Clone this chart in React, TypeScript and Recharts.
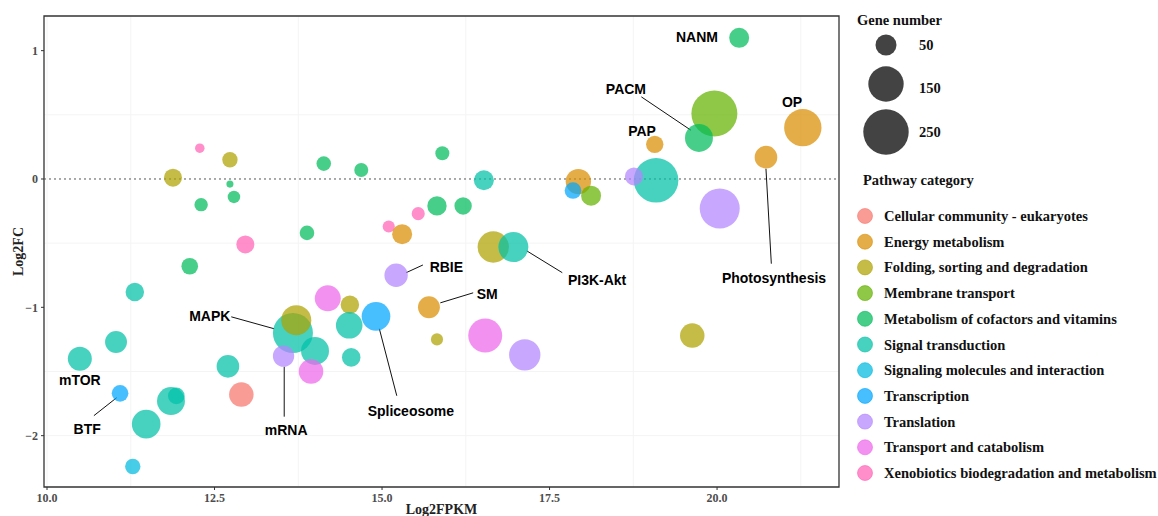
import React from 'react';
import {
  ScatterChart,
  Scatter,
  XAxis,
  YAxis,
  ZAxis,
  CartesianGrid,
  ReferenceLine,
  ReferenceArea,
  ReferenceDot,
  Cell,
  Label,
} from 'recharts';

const categories = [
  'Cellular community - eukaryotes',
  'Energy metabolism',
  'Folding, sorting and degradation',
  'Membrane transport',
  'Metabolism of cofactors and vitamins',
  'Signal transduction',
  'Signaling molecules and interaction',
  'Transcription',
  'Translation',
  'Transport and catabolism',
  'Xenobiotics biodegradation and metabolism',
];
const categoryColors = [
  '#F8766D', '#DB8E00', '#AEA200', '#64B200', '#00BD5C', '#00C1A7',
  '#00BADE', '#00A6FF', '#B385FF', '#EF67EB', '#FF63B6',
];

const bubbleX = [
  12.28, 12.73, 11.88, 12.73, 12.79, 12.3, 14.13, 14.69, 12.96, 13.88,
  15.1, 15.3, 15.54, 12.13, 11.31, 11.03, 10.49, 11.09, 11.85, 11.93,
  11.48, 11.28, 12.7, 12.9, 13.67, 13.72, 14.0, 13.53, 13.94, 14.19,
  14.52, 14.51, 14.54, 14.91, 15.21, 20.33, 19.96, 19.73, 21.28, 20.73,
  19.07, 19.09, 18.76, 20.04, 17.93, 17.85, 18.12, 15.9, 16.52, 15.82,
  16.21, 16.66, 16.96, 15.7, 15.82, 16.54, 17.13, 19.63,
];
const bubbleY = [
  0.24, 0.15, 0.01, -0.04, -0.14, -0.2, 0.12, 0.07, -0.51, -0.42,
  -0.37, -0.43, -0.27, -0.68, -0.88, -1.27, -1.4, -1.67, -1.73, -1.69,
  -1.91, -2.24, -1.46, -1.68, -1.2, -1.1, -1.34, -1.38, -1.5, -0.93,
  -0.98, -1.14, -1.39, -1.07, -0.75, 1.1, 0.51, 0.32, 0.4, 0.17,
  0.27, -0.01, 0.02, -0.23, -0.02, -0.09, -0.13, 0.2, -0.01, -0.21,
  -0.21, -0.53, -0.53, -1.0, -1.25, -1.22, -1.37, -1.22,
];
const bubbleGenes = [
  7, 25, 36, 2, 15, 18, 22, 20, 36, 22,
  14, 45, 17, 30, 38, 55, 67, 30, 92, 30,
  97, 25, 59, 70, 193, 107, 92, 52, 70, 79,
  38, 83, 38, 97, 63, 45, 256, 92, 168, 59,
  33, 241, 36, 193, 75, 30, 45, 20, 45, 42,
  33, 117, 107, 55, 14, 138, 117, 70,
];
const bubbleCategory = [
  10, 2, 2, 4, 4, 4, 4, 4, 10, 4,
  10, 1, 10, 4, 5, 5, 5, 7, 5, 5,
  5, 6, 5, 0, 5, 2, 5, 8, 9, 9,
  2, 5, 5, 7, 8, 4, 3, 4, 1, 1,
  1, 5, 8, 8, 1, 7, 3, 4, 5, 4,
  4, 2, 5, 1, 2, 9, 8, 2,
];

const xTicks = [10, 12.5, 15, 17.5, 20];
const yTicks = [-2, -1, 0, 1];
const xMinor = [11.25, 13.75, 16.25, 18.75, 21.25];
const yMinor = [-1.5, -0.5, 0.5];

const sizeLegendValues = [50, 150, 250];

const annotationText = [
  'NANM', 'PACM', 'PAP', 'OP', 'Photosynthesis', 'PI3K-Akt', 'RBIE',
  'SM', 'Spliceosome', 'MAPK', 'mRNA', 'mTOR', 'BTF',
];
const annotationX = [19.7, 18.64, 18.88, 21.12, 20.85, 18.21, 15.96, 16.57, 15.43, 12.43, 13.57, 10.49, 10.6];
const annotationY = [1.105, 0.7, 0.37, 0.6, -0.77, -0.79, -0.685, -0.9, -1.805, -1.066, -1.953, -1.564, -1.946];

const leaderX1 = [18.87, 20.73, 17.16, 15.36, 15.87, 14.96, 12.75, 13.54, 10.7];
const leaderY1 = [0.64, 0.08, -0.56, -0.73, -0.965, -1.167, -1.074, -1.463, -1.844];
const leaderX2 = [19.61, 20.81, 17.69, 15.61, 16.36, 15.22, 13.39, 13.54, 11.04];
const leaderY2 = [0.38, -0.66, -0.73, -0.67, -0.887, -1.689, -1.167, -1.852, -1.704];

const X_DOMAIN: [number, number] = [9.955, 21.82];
const Y_DOMAIN: [number, number] = [-2.4, 1.27];

// bubble area (px^2) as a linear function of gene number
const Z_DOMAIN: [number, number] = [0, 300];
const areaOf = (n: number) => Math.PI * (2.03 * n + 8.5);
const Z_RANGE: [number, number] = [areaOf(Z_DOMAIN[0]), areaOf(Z_DOMAIN[1])];

const data = bubbleX.map((x, i) => ({
  x,
  y: bubbleY[i],
  n: bubbleGenes[i],
  cat: bubbleCategory[i],
}));

const serif = '"Liberation Serif", "Times New Roman", serif';
const sans = '"Liberation Sans", Arial, sans-serif';

const tickStyle = { fontFamily: serif, fontSize: 12, fontWeight: 'bold' as const, fill: '#4d4d4d' };

export default function App() {
  return (
    <div style={{ position: 'absolute', left: 0, top: 0, width: 1158, height: 516, background: '#fff' }}>
      <ScatterChart width={1158} height={516} margin={{ top: 16, right: 319, bottom: 0, left: 0 }}>
        <CartesianGrid
          stroke="#f4f4f4"
          strokeWidth={1}
          horizontalValues={[...yTicks, ...yMinor]}
          verticalValues={[...xTicks, ...xMinor]}
        />
        <XAxis
          type="number"
          dataKey="x"
          domain={X_DOMAIN}
          ticks={xTicks}
          allowDataOverflow
          height={29}
          tickSize={3}
          tickMargin={3}
          axisLine={false}
          tickLine={{ stroke: '#333' }}
          tick={tickStyle}
          tickFormatter={(v: number) => v.toFixed(1)}
        >
          <Label
            value="Log2FPKM"
            position="insideBottom"
            offset={2}
            style={{ fontFamily: serif, fontSize: 14, fontWeight: 'bold', fill: '#222' }}
          />
        </XAxis>
        <YAxis
          type="number"
          dataKey="y"
          domain={Y_DOMAIN}
          ticks={yTicks}
          allowDataOverflow
          width={44}
          tickSize={3}
          tickMargin={3}
          axisLine={false}
          tickLine={{ stroke: '#333' }}
          tick={tickStyle}
          tickFormatter={(v: number) => (v < 0 ? '\u2212' + Math.abs(v) : String(v))}
        >
          <Label
            value="Log2FC"
            angle={-90}
            position="insideLeft"
            offset={18}
            style={{ fontFamily: serif, fontSize: 14, fontWeight: 'bold', fill: '#222', textAnchor: 'middle' }}
          />
        </YAxis>
        <ZAxis type="number" dataKey="n" domain={Z_DOMAIN} range={Z_RANGE} />
        <ReferenceLine y={0} stroke="#555" strokeDasharray="2 3" strokeWidth={1} />
        <Scatter data={data} isAnimationActive={false} fillOpacity={0.72} stroke="none">
          {data.map((d, i) => (
            <Cell key={i} fill={categoryColors[d.cat]} />
          ))}
        </Scatter>
        {leaderX1.map((x1, i) => (
          <ReferenceLine
            key={'l' + i}
            segment={[
              { x: x1, y: leaderY1[i] },
              { x: leaderX2[i], y: leaderY2[i] },
            ]}
            stroke="#111"
            strokeWidth={1}
            ifOverflow="visible"
          />
        ))}
        {annotationText.map((t, i) => (
          <ReferenceDot
            key={'a' + i}
            x={annotationX[i]}
            y={annotationY[i]}
            r={0}
            fill="none"
            stroke="none"
            ifOverflow="visible"
          >
            <Label
              value={t}
              position="center"
              style={{ fontFamily: sans, fontSize: 14, fontWeight: 'bold', fill: '#000' }}
            />
          </ReferenceDot>
        ))}
        <ReferenceArea
          x1={X_DOMAIN[0]}
          x2={X_DOMAIN[1]}
          y1={Y_DOMAIN[0]}
          y2={Y_DOMAIN[1]}
          fill="none"
          fillOpacity={0}
          stroke="#333"
          strokeWidth={1.3}
          ifOverflow="visible"
        />
      </ScatterChart>
      <svg
        width={318}
        height={516}
        style={{ position: 'absolute', left: 840, top: 0 }}
      >
        <text x={17} y={25} style={{ fontFamily: serif, fontSize: 14.5, fontWeight: 'bold', fill: '#111' }}>
          Gene number
        </text>
        {sizeLegendValues.map((v, i) => {
          const cy = [45, 84, 132][i];
          const ly = [45, 88, 132][i];
          return (
            <g key={v}>
              <circle cx={46} cy={cy} r={Math.sqrt(areaOf(v) / Math.PI)} fill="#333" fillOpacity={0.92} />
              <text
                x={79}
                y={ly}
                dominantBaseline="central"
                style={{ fontFamily: serif, fontSize: 14.5, fontWeight: 'bold', fill: '#111' }}
              >
                {v}
              </text>
            </g>
          );
        })}
        <text x={23} y={185} style={{ fontFamily: serif, fontSize: 14.5, fontWeight: 'bold', fill: '#111' }}>
          Pathway category
        </text>
        {categories.map((c, i) => {
          const cy = 216 + i * 25.7;
          return (
            <g key={c}>
              <circle
                cx={25}
                cy={cy}
                r={7.5}
                fill={categoryColors[i]}
                fillOpacity={0.72}
                stroke={categoryColors[i]}
                strokeOpacity={0.6}
                strokeWidth={1}
              />
              <text
                x={44}
                y={cy}
                dominantBaseline="central"
                style={{ fontFamily: serif, fontSize: 14.5, fontWeight: 'bold', fill: '#111' }}
              >
                {c}
              </text>
            </g>
          );
        })}
      </svg>
    </div>
  );
}
